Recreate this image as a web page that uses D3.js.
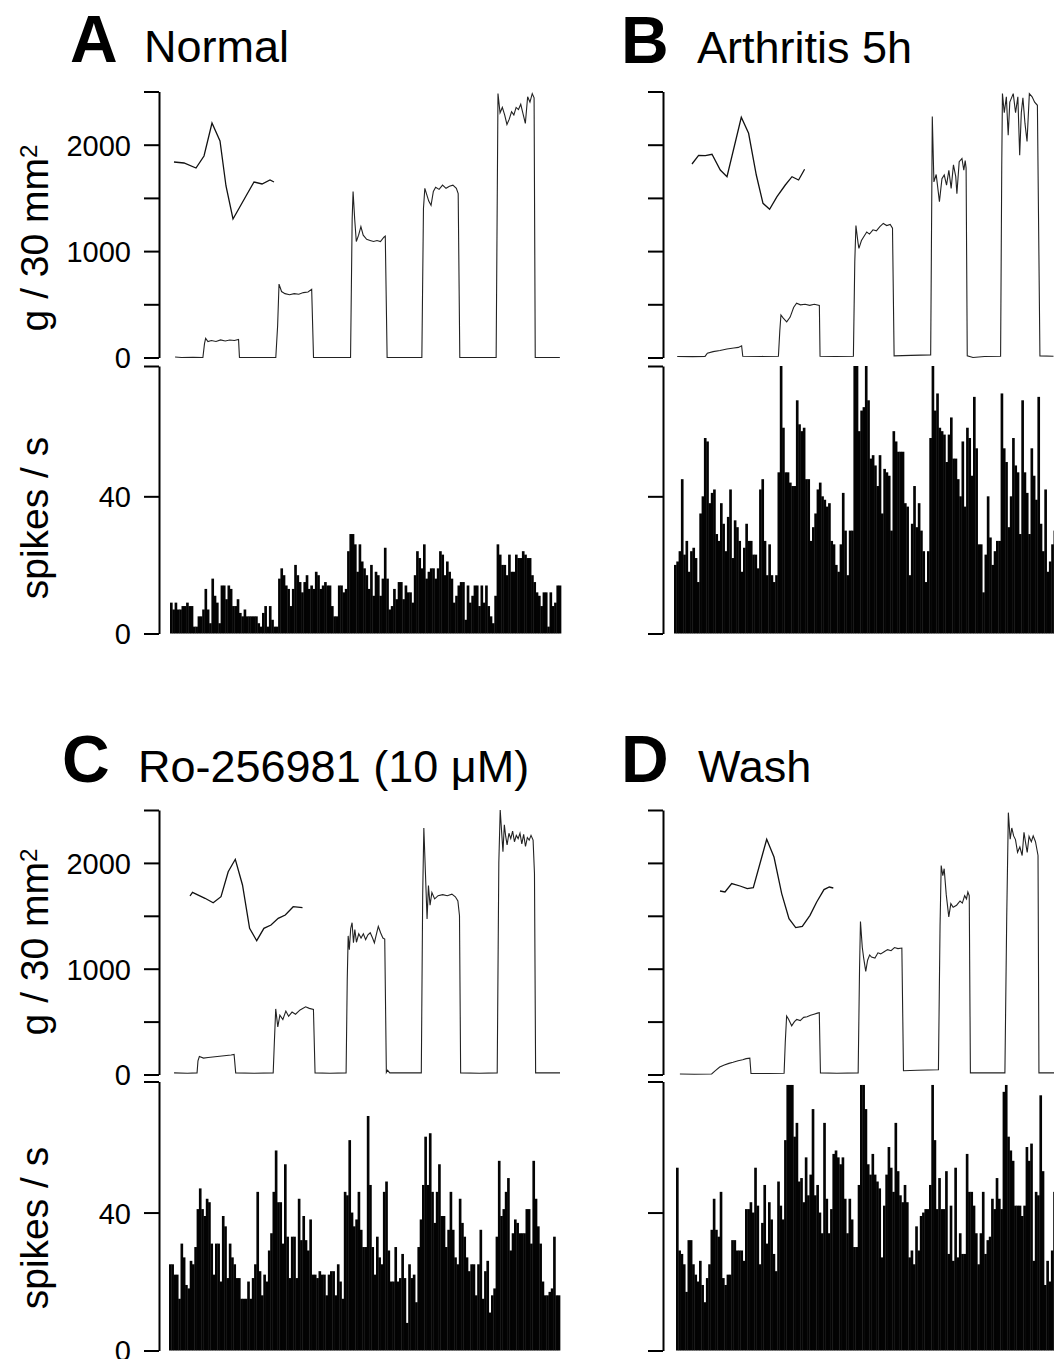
<!DOCTYPE html>
<html>
<head>
<meta charset="utf-8">
<script src="https://cdn.jsdelivr.net/npm/d3@7"></script>
<style>
  body { margin: 0; background: #fff; }
  svg { display: block; }
</style>
</head>
<body>
<div id="chart"></div>
<script>
// ---- data ----
const panelLetters = ["A", "B", "C", "D"];
const panelTitles = ["Normal", "Arthritis 5h", "Ro-256981 (10 \u03BCM)", "Wash"];

const forceTicks = [0, 500, 1000, 1500, 2000, 2500];
const forceTickLabels = [0, 1000, 2000];
const rateTicks = [0, 40, 78];
const rateTickLabels = [0, 40];

// spikes / s, 1 s bins
const spikesA = [9,7,9,7,7,8,8,9,8,8, 2,2,5,5,7,13,7,3,16,11, 9,3,14,14,10,14,13,8,8,10, 6,5,7,5,5,5,5,5,3,2,
  6,8,2,8,4,2,2,16,19,17, 14,13,8,13,20,17,15,12,15,17, 13,14,13,18,17,13,14,15,14,14, 8,5,5,14,14,12,13,24,29,29,
  26,18,26,21,19,17,13,20,11,18, 17,11,16,25,16,7,8,13,10,15, 15,10,14,12,12,9,17,24,22,19, 26,16,18,19,19,16,19,24,23,17,
  21,18,16,9,11,14,15,15,4,14, 9,11,14,14,8,14,9,14,8,5, 3,11,26,23,20,20,17,23,18,18, 23,22,22,24,23,22,22,17,15,12,
  11,8,12,12,2,12,8,9,14,14];
const spikesB = [20,21,24,45,23,27,18,24,25,22, 15,35,40,57,56,38,41,42,29,27, 38,32,24,34,42,22,33,31,27,18, 25,32,27,27,23,23,19,42,45,27,
  17,26,17,15,17,47,78,60,47,47, 44,43,43,68,61,59,60,45,45,27, 31,35,42,44,40,39,37,38,27,26, 20,18,26,41,30,17,30,30,78,78,
  59,65,66,78,68,51,52,49,43,52, 35,48,47,46,30,59,56,53,53,53, 38,37,17,32,43,31,38,30,24,15, 24,57,78,65,70,60,59,58,50,58,
  63,51,51,45,40,56,37,60,57,46, 69,54,26,26,12,23,40,28,20,24, 27,27,70,54,50,31,40,57,49,47, 29,68,47,41,29,54,46,39,69,32,
  24,42,18,21,26,30,28,25,22,20];
const spikesC = [25,25,22,22,15,31,27,19,18,26, 25,30,41,47,41,39,44,43,31,22, 31,31,20,39,36,21,31,27,25,21, 21,15,15,15,20,15,21,25,46,23,
  16,22,20,29,34,46,58,43,43,31, 54,33,21,33,33,21,44,32,39,32, 29,38,22,22,21,23,22,22,16,22, 23,23,16,25,20,15,46,45,61,40,
  36,38,46,35,30,30,68,48,30,22, 33,27,25,46,49,29,20,20,30,20, 21,28,21,8,25,21,22,14,30,38, 48,62,48,63,46,37,46,54,39,39,
  30,35,46,35,27,25,44,37,33,27, 23,25,25,16,25,35,15,23,26,11, 16,18,33,55,39,41,46,50,29,34, 38,37,34,34,34,41,41,31,55,44,
  36,31,20,16,16,17,18,33,16,16];
const spikesD = [53,29,28,25,17,32,32,25,22,20, 26,19,14,21,25,35,44,35,33,46, 21,19,22,22,32,32,29,29,29,26, 41,41,43,40,53,42,25,37,48,31,
  43,38,28,23,49,42,38,61,77,77, 77,62,66,49,50,43,56,45,51,70, 45,48,40,34,66,44,34,41,57,58, 56,54,56,44,34,44,38,30,30,48,
  77,77,70,54,51,57,51,49,47,27, 42,51,59,53,46,66,52,45,43,48, 43,27,29,25,36,29,39,40,41,41, 48,77,61,41,50,41,41,52,28,42,
  26,53,27,34,28,28,57,46,46,42, 34,25,34,46,28,32,33,44,41,50, 44,41,75,77,62,58,55,42,42,42, 39,42,59,55,60,26,46,45,74,52,
  19,26,20,29,46,40,35,30,36,42];

// pressure trace, [time s, g / 30 mm2]
const traceA = [[2.2,5],[5,0],[10,2],[14.3,0],[15,130],[15.5,180],[16.5,150],[18,160],[20,150],[22,165],[24,155],[26,165],[28,160],[29.8,170],[30.2,0],
  [38,0],[46,0],[46.8,300],[47.4,690],[48.5,620],[50,600],[52,590],[54,600],[56,595],[58,610],[60,615],[61.6,640],[62.4,0],
  [70,0],[78.5,0],[79.2,1300],[79.6,1560],[80.3,1300],[81,1090],[82,1150],[83,1230],[84,1150],[85.5,1110],[87,1100],[88.5,1090],[90,1100],[91.5,1090],[93,1130],[93.6,1140],[94.4,0],
  [100,0],[109.5,0],[110.2,1400],[110.8,1590],[111.5,1540],[112.5,1470],[113.5,1430],[114.5,1560],[115.5,1600],[117,1580],[118.5,1620],[120,1590],[121.5,1610],[123,1620],[124.5,1590],[125.3,1540],[126,0],
  [134,0],[141.8,0],[142.6,2480],[143.5,2300],[144.5,2350],[145.5,2280],[146.5,2190],[147.5,2240],[148.5,2310],[149.5,2280],[150.5,2350],[151.5,2330],[152.5,2380],[153.5,2290],[154.5,2200],[155.5,2450],[156.5,2400],[157.5,2480],[158.3,2440],[158.8,0],[169.5,0]];
const traceB = [[1.4,10],[8,8],[13.5,10],[14.5,40],[17,55],[20,65],[23,80],[26,90],[28,95],[29.4,110],[29.9,12],[38,10],[45.4,12],
  [46,250],[46.5,400],[47.5,370],[49,335],[50.5,380],[52,470],[53.3,510],[55,495],[57,500],[59,490],[61,500],[63.2,490],[63.5,12],[70,10],[78,12],
  [78.6,900],[79.1,1240],[80,1080],[80.4,1025],[81.5,1100],[83.8,1180],[85,1160],[86.5,1200],[88,1190],[89.5,1230],[91,1260],[92.5,1240],[94,1250],[95,1215],[95.7,15],[103,20],[111.6,25],
  [112.1,1600],[112.3,2265],[113,1650],[114,1720],[115.4,1465],[116.5,1680],[117.5,1715],[118.5,1620],[119.5,1760],[120.5,1590],[121.5,1810],[122.5,1700],[123,1540],[124,1840],[125.2,1870],[126,1760],[126.6,1850],[127,1780],[127.5,15],[130,-10],[135,10],[142,12],
  [142.5,1800],[142.8,2480],[143.6,2300],[144.5,2450],[145.3,2090],[146,2400],[147.5,2480],[148.5,2300],[149.5,2450],[150.3,1900],[151,2300],[151.7,2440],[152.6,2200],[153.5,2030],[154.5,2480],[155.7,2450],[156.8,2400],[158,2370],[159.1,15],[165,12]];
const traceC = [[2.2,15],[8,12],[12.2,15],[12.6,130],[13.2,170],[15,155],[17,160],[19,165],[21,170],[23,175],[25,180],[27,185],[28.3,190],[29,15],[37,12],[45.3,15],
  [45.8,300],[46.4,620],[47.3,450],[48.2,560],[49.5,520],[50.8,600],[52,550],[53.5,590],[55,570],[57,610],[59.4,640],[61,625],[62.8,615],[63.5,15],[70,12],[77,15],
  [77.5,900],[77.9,1310],[78.4,1180],[79,1380],[79.6,1435],[80.2,1245],[80.8,1370],[81.5,1250],[82.5,1330],[83.5,1290],[84.5,1330],[85.5,1275],[86.5,1320],[87.5,1340],[88.5,1290],[89.3,1245],[90,1310],[91,1400],[92,1340],[93,1290],[93.8,1280],[94.5,20],[95,40],[96,15],[109.7,15],
  [110.3,1700],[110.8,2330],[111.5,1900],[112.2,1470],[112.8,1785],[113.5,1600],[114.3,1720],[115.5,1660],[117,1690],[119,1700],[121,1690],[123,1705],[124.5,1680],[125.6,1640],[126.3,1500],[126.8,15],[135,12],[142.7,15],
  [143.4,2000],[144,2500],[144.6,2300],[145.2,2105],[145.8,2360],[146.4,2250],[147,2170],[147.8,2280],[148.6,2230],[149.4,2300],[150.2,2200],[151,2260],[151.8,2230],[152.6,2280],[153.4,2180],[154.2,2270],[155,2155],[155.8,2240],[156.6,2215],[157.4,2260],[158.3,2215],[158.9,1900],[159.4,15],[170,15]];
const traceD = [[1.7,5],[8,3],[15.5,5],[17,35],[19,70],[21,90],[23,105],[24.8,115],[27,130],[29,140],[30.5,150],[32.1,155],[32.6,10],[40,10],[47,12],
  [47.5,300],[48.1,553],[49,520],[50.3,460],[51.5,500],[52.5,520],[54,510],[55.5,540],[57,545],[58.5,560],[60,570],[61.5,580],[62.3,585],[62.8,15],[70,12],[79.2,15],
  [79.8,1000],[80.2,1445],[81,1200],[81.6,1100],[82.5,975],[83.3,1080],[84.2,1130],[85,1110],[86.5,1100],[87.8,1150],[89,1140],[90.5,1160],[92,1180],[93.5,1170],[95,1200],[96.5,1190],[98.2,1195],[98.9,35],[105,40],[114.1,45],
  [114.8,1400],[115.3,1975],[116,1880],[116.6,1945],[117.5,1700],[118.6,1490],[119.5,1615],[120.5,1580],[122,1600],[123.5,1640],[124.5,1620],[125.5,1690],[126.3,1660],[126.9,1725],[127.5,1690],[128,15],[135,15],[143,15],
  [143.8,1500],[144.5,2475],[145.3,2225],[146,2330],[146.8,2255],[147.6,2220],[148.5,2100],[149.5,2150],[150.5,2070],[151.3,2290],[152,2190],[152.7,2100],[153.5,2250],[154.5,2200],[155.3,2255],[156.3,2200],[157.4,2070],[157.8,15],[165,15]];

// averaged action potential insets, [time (a.u.), amplitude (a.u.)]
const waveA = [[0,0],[10,-1],[22,-6],[30,6],[38,39],[46,21],[52,-24],[59,-57],[72,-34],[80,-20],[88,-22],[96,-18],[100,-20]];
const waveB = [[0,0],[6.6,8.7],[13.3,8.3],[20,9.7],[28.3,-6],[35,-12.7],[49.3,46.7],[56.6,30.7],[64.3,-11],[71,-39.3],[77.6,-45.3],[85,-32.7],[93.3,-21],[100,-12.7],[106.6,-16],[112.6,-5.3]];
const waveC = [[0,0],[2.5,3.7],[15,-2.3],[23.2,-6.7],[31,-0.7],[38.2,24.3],[45.3,36.7],[52.5,11],[59.6,-32.3],[66.7,-44.7],[73.9,-32.3],[81,-29],[88.2,-22.3],[95.3,-19],[103.2,-10.7],[112.5,-11.7]];
const waveD = [[0,0],[5,-1],[11.7,7.4],[20,5],[27.3,2.4],[33.3,3.4],[46.7,51.7],[54,34],[61.7,-2.6],[69,-27.6],[75.7,-36.6],[82.3,-35.3],[90,-24.3],[96.7,-11],[104,1.4],[109.3,4],[113.3,3]];

// ---- layout ----
const W = 1054, H = 1359;
const FONT = "Arial, 'Liberation Sans', Helvetica, sans-serif";
const binPx = 2.3;
const duration = 170;

const panels = [
  { letter: panelLetters[0], title: panelTitles[0], spikes: spikesA, trace: traceA, wave: waveA,
    axisX: 159, histX: 170, forceY: [357.5, 91.5], rateY: [633.5, 366], base: 62, letterX: 70, titleX: 144,
    wave0: [174, 162], labels: true, gTitleY: 238, sTitleY: 518 },
  { letter: panelLetters[1], title: panelTitles[1], spikes: spikesB, trace: traceB, wave: waveB,
    axisX: 663, histX: 674, forceY: [357.5, 91.5], rateY: [633.5, 366], base: 63, letterX: 621, titleX: 697,
    wave0: [692, 164], labels: false },
  { letter: panelLetters[2], title: panelTitles[2], spikes: spikesC, trace: traceC, wave: waveC,
    axisX: 159, histX: 169, forceY: [1074.5, 810], rateY: [1350.5, 1081.5], base: 782, letterX: 62, titleX: 138,
    wave0: [190, 896], labels: true, gTitleY: 942, sTitleY: 1228 },
  { letter: panelLetters[3], title: panelTitles[3], spikes: spikesD, trace: traceD, wave: waveD,
    axisX: 663, histX: 676, forceY: [1074.5, 810], rateY: [1350.5, 1081.5], base: 782, letterX: 621, titleX: 698,
    wave0: [720, 891], labels: false }
];

const svg = d3.select("#chart").append("svg")
  .attr("width", W)
  .attr("height", H)
  .style("font-family", FONT);

panels.forEach(p => {
  const g = svg.append("g");

  // titles
  g.append("text")
    .attr("x", p.letterX).attr("y", p.base)
    .style("font-size", "66px").style("font-weight", "bold")
    .text(p.letter);
  g.append("text")
    .attr("x", p.titleX).attr("y", p.base)
    .style("font-size", "45px")
    .text(p.title);

  const x = d3.scaleLinear().domain([0, duration]).range([p.histX, p.histX + duration * binPx]);
  const yF = d3.scaleLinear().domain([0, 2500]).range(p.forceY).clamp(true);
  const yR = d3.scaleLinear().domain([0, 78]).range(p.rateY).clamp(true);
  const xb = d3.scaleBand().domain(d3.range(p.spikes.length))
    .range([p.histX, p.histX + p.spikes.length * binPx]).padding(0);

  // histogram
  g.append("g").selectAll("rect")
    .data(p.spikes)
    .join("rect")
    .attr("x", (d, i) => xb(i))
    .attr("width", xb.bandwidth() + 0.35)
    .attr("y", d => yR(d))
    .attr("height", d => yR(0) - yR(d))
    .attr("fill", "#030303");

  // pressure trace
  const line = d3.line().x(d => x(d[0])).y(d => yF(d[1]));
  g.append("path")
    .datum(p.trace)
    .attr("d", line)
    .attr("fill", "none")
    .attr("stroke", "#222")
    .attr("stroke-width", 1.1);

  // spike waveform inset
  const wx = d3.scaleLinear().domain([0, 100]).range([p.wave0[0], p.wave0[0] + 100]);
  const wy = d3.scaleLinear().domain([0, 100]).range([p.wave0[1], p.wave0[1] - 100]);
  g.append("path")
    .datum(p.wave)
    .attr("d", d3.line().x(d => wx(d[0])).y(d => wy(d[1])))
    .attr("fill", "none")
    .attr("stroke", "#111")
    .attr("stroke-width", 1.3);

  // axes
  const axF = g.append("g")
    .attr("transform", `translate(${p.axisX},0)`)
    .call(d3.axisLeft(yF).tickValues(forceTicks).tickSize(15).tickSizeOuter(0)
      .tickFormat(d => p.labels && forceTickLabels.includes(d) ? d : ""));
  const axR = g.append("g")
    .attr("transform", `translate(${p.axisX},0)`)
    .call(d3.axisLeft(yR).tickValues(rateTicks).tickSize(15).tickSizeOuter(0)
      .tickFormat(d => p.labels && rateTickLabels.includes(d) ? d : ""));
  [axF, axR].forEach(ax => {
    ax.selectAll("path, line").attr("stroke", "#000").attr("stroke-width", 2);
    ax.selectAll("text")
      .attr("x", -28)
      .attr("dy", "0.36em")
      .style("font-family", FONT)
      .style("font-size", "29px")
      .attr("fill", "#000");
  });

  if (p.labels) {
    const tf = g.append("text")
      .attr("transform", `translate(48,${p.gTitleY}) rotate(-90)`)
      .attr("text-anchor", "middle")
      .style("font-size", "39px");
    tf.append("tspan").text("g / 30 mm");
    tf.append("tspan").attr("dy", "-0.45em").style("font-size", "24px").text("2");

    g.append("text")
      .attr("transform", `translate(48,${p.sTitleY}) rotate(-90)`)
      .attr("text-anchor", "middle")
      .style("font-size", "39px")
      .text("spikes / s");
  }
});
</script>
</body>
</html>
